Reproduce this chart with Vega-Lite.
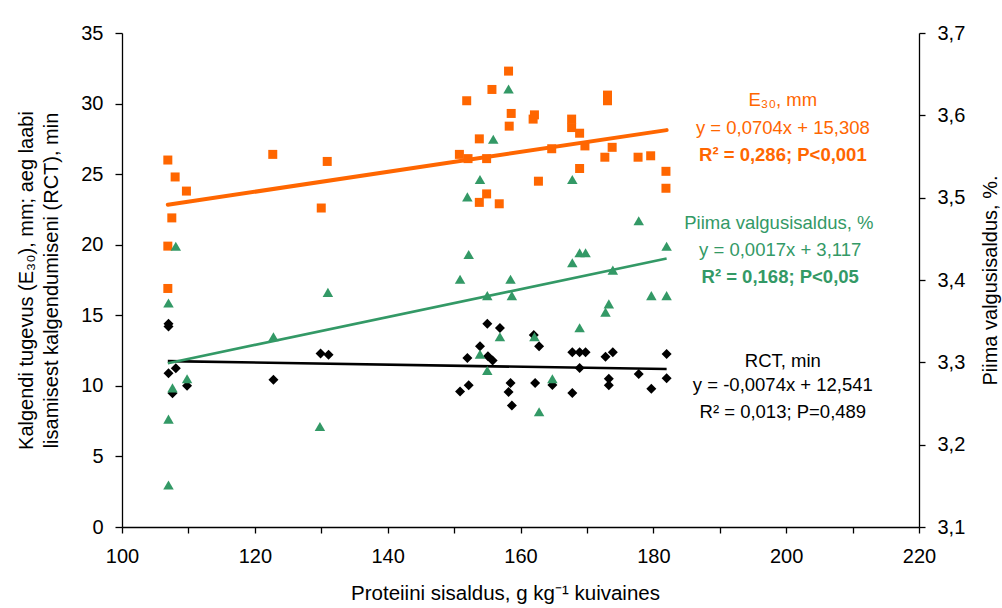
{
  "$schema": "https://vega.github.io/schema/vega-lite/v6.json",
  "width": 797,
  "height": 494,
  "autosize": {"type": "none"},
  "padding": {"left": 122, "top": 33, "right": 83, "bottom": 81},
  "background": "white",
  "config": {
    "view": {"stroke": null},
    "font": "Liberation Sans",
    "axis": {"domainColor": "black", "tickColor": "black", "labelColor": "black", "titleColor": "black", "domainWidth": 1.3, "tickWidth": 1.3, "grid": false, "labelFlush": false, "labelOverlap": false, "labelFont": "Liberation Sans", "titleFont": "Liberation Sans", "titleFontWeight": "normal"}
  },
  "datasets": {
    "points": [
      {"series": "E30", "x": 106.9, "y": 26.0},
      {"series": "E30", "x": 108.0, "y": 24.8},
      {"series": "E30", "x": 109.7, "y": 23.8},
      {"series": "E30", "x": 107.5, "y": 21.9},
      {"series": "E30", "x": 106.9, "y": 19.9},
      {"series": "E30", "x": 106.9, "y": 16.9},
      {"series": "E30", "x": 122.7, "y": 26.4},
      {"series": "E30", "x": 130.0, "y": 22.6},
      {"series": "E30", "x": 130.9, "y": 25.9},
      {"series": "E30", "x": 158.2, "y": 32.3},
      {"series": "E30", "x": 155.7, "y": 31.0},
      {"series": "E30", "x": 151.9, "y": 30.2},
      {"series": "E30", "x": 158.6, "y": 29.3},
      {"series": "E30", "x": 158.3, "y": 28.4},
      {"series": "E30", "x": 162.1, "y": 29.2},
      {"series": "E30", "x": 161.9, "y": 28.9},
      {"series": "E30", "x": 167.7, "y": 28.9},
      {"series": "E30", "x": 167.7, "y": 28.3},
      {"series": "E30", "x": 168.9, "y": 27.9},
      {"series": "E30", "x": 169.7, "y": 27.0},
      {"series": "E30", "x": 173.1, "y": 30.6},
      {"series": "E30", "x": 173.1, "y": 30.2},
      {"series": "E30", "x": 173.8, "y": 26.9},
      {"series": "E30", "x": 172.7, "y": 26.2},
      {"series": "E30", "x": 177.7, "y": 26.2},
      {"series": "E30", "x": 179.6, "y": 26.3},
      {"series": "E30", "x": 181.9, "y": 25.2},
      {"series": "E30", "x": 181.9, "y": 24.0},
      {"series": "E30", "x": 153.8, "y": 27.5},
      {"series": "E30", "x": 150.8, "y": 26.4},
      {"series": "E30", "x": 152.1, "y": 26.1},
      {"series": "E30", "x": 154.9, "y": 26.1},
      {"series": "E30", "x": 164.7, "y": 26.8},
      {"series": "E30", "x": 168.9, "y": 25.4},
      {"series": "E30", "x": 162.7, "y": 24.5},
      {"series": "E30", "x": 154.9, "y": 23.6},
      {"series": "E30", "x": 153.8, "y": 23.0},
      {"series": "E30", "x": 156.8, "y": 22.9},
      {"series": "RCT", "x": 107.0, "y": 14.4},
      {"series": "RCT", "x": 107.0, "y": 14.2},
      {"series": "RCT", "x": 107.0, "y": 10.9},
      {"series": "RCT", "x": 108.1, "y": 11.25},
      {"series": "RCT", "x": 107.6, "y": 9.48},
      {"series": "RCT", "x": 109.8, "y": 10.0},
      {"series": "RCT", "x": 122.8, "y": 10.44},
      {"series": "RCT", "x": 129.9, "y": 12.3},
      {"series": "RCT", "x": 131.1, "y": 12.2},
      {"series": "RCT", "x": 155.0, "y": 14.4},
      {"series": "RCT", "x": 156.9, "y": 14.1},
      {"series": "RCT", "x": 162.0, "y": 13.6},
      {"series": "RCT", "x": 153.9, "y": 12.8},
      {"series": "RCT", "x": 162.8, "y": 12.8},
      {"series": "RCT", "x": 152.0, "y": 11.98},
      {"series": "RCT", "x": 155.1, "y": 12.1},
      {"series": "RCT", "x": 155.8, "y": 11.8},
      {"series": "RCT", "x": 167.8, "y": 12.38},
      {"series": "RCT", "x": 168.9, "y": 12.38},
      {"series": "RCT", "x": 169.8, "y": 12.38},
      {"series": "RCT", "x": 172.8, "y": 12.07},
      {"series": "RCT", "x": 173.9, "y": 12.38},
      {"series": "RCT", "x": 182.0, "y": 12.26},
      {"series": "RCT", "x": 168.9, "y": 11.27},
      {"series": "RCT", "x": 177.8, "y": 10.84},
      {"series": "RCT", "x": 182.0, "y": 10.54},
      {"series": "RCT", "x": 173.3, "y": 10.5},
      {"series": "RCT", "x": 173.3, "y": 10.04},
      {"series": "RCT", "x": 179.7, "y": 9.8},
      {"series": "RCT", "x": 150.9, "y": 9.6},
      {"series": "RCT", "x": 152.2, "y": 10.04},
      {"series": "RCT", "x": 158.5, "y": 10.2},
      {"series": "RCT", "x": 158.2, "y": 9.57},
      {"series": "RCT", "x": 158.7, "y": 8.6},
      {"series": "RCT", "x": 162.2, "y": 10.2},
      {"series": "RCT", "x": 164.8, "y": 10.06},
      {"series": "RCT", "x": 167.8, "y": 9.5}
    ],
    "protein": [
      {"series": "Piim", "x": 108.1, "y": 3.441},
      {"series": "Piim", "x": 107.0, "y": 3.372},
      {"series": "Piim", "x": 107.6, "y": 3.269},
      {"series": "Piim", "x": 109.8, "y": 3.280},
      {"series": "Piim", "x": 107.0, "y": 3.231},
      {"series": "Piim", "x": 107.0, "y": 3.151},
      {"series": "Piim", "x": 122.8, "y": 3.331},
      {"series": "Piim", "x": 129.8, "y": 3.222},
      {"series": "Piim", "x": 131.0, "y": 3.385},
      {"series": "Piim", "x": 158.2, "y": 3.632},
      {"series": "Piim", "x": 155.9, "y": 3.571},
      {"series": "Piim", "x": 153.9, "y": 3.522},
      {"series": "Piim", "x": 152.0, "y": 3.501},
      {"series": "Piim", "x": 167.8, "y": 3.522},
      {"series": "Piim", "x": 177.8, "y": 3.472},
      {"series": "Piim", "x": 182.0, "y": 3.441},
      {"series": "Piim", "x": 152.2, "y": 3.431},
      {"series": "Piim", "x": 168.9, "y": 3.433},
      {"series": "Piim", "x": 169.8, "y": 3.433},
      {"series": "Piim", "x": 167.8, "y": 3.421},
      {"series": "Piim", "x": 173.9, "y": 3.412},
      {"series": "Piim", "x": 150.9, "y": 3.401},
      {"series": "Piim", "x": 158.5, "y": 3.401},
      {"series": "Piim", "x": 155.0, "y": 3.381},
      {"series": "Piim", "x": 158.7, "y": 3.381},
      {"series": "Piim", "x": 179.7, "y": 3.381},
      {"series": "Piim", "x": 182.0, "y": 3.381},
      {"series": "Piim", "x": 173.3, "y": 3.371},
      {"series": "Piim", "x": 172.8, "y": 3.361},
      {"series": "Piim", "x": 168.9, "y": 3.342},
      {"series": "Piim", "x": 156.9, "y": 3.331},
      {"series": "Piim", "x": 162.1, "y": 3.331},
      {"series": "Piim", "x": 153.9, "y": 3.310},
      {"series": "Piim", "x": 155.0, "y": 3.290},
      {"series": "Piim", "x": 164.8, "y": 3.280},
      {"series": "Piim", "x": 162.8, "y": 3.240}
    ],
    "trend": [
      {"series": "E30", "x": 106.9, "y": 22.83},
      {"series": "E30", "x": 182.0, "y": 28.12},
      {"series": "RCT", "x": 106.9, "y": 11.75},
      {"series": "RCT", "x": 182.0, "y": 11.19},
      {"series": "Piim", "x": 106.9, "y": 3.299},
      {"series": "Piim", "x": 182.0, "y": 3.426}
    ],
    "notes": [
      {"series": "E30", "part": "name", "label": "E₃₀, mm", "x": 199.5, "y": 30.25},
      {"series": "E30", "part": "eq", "label": "y = 0,0704x + 15,308", "x": 199.5, "y": 28.29},
      {"series": "E30", "part": "r2", "label": "R² = 0,286; P<0,001", "x": 199.5, "y": 26.36},
      {"series": "Piim", "part": "name", "label": "Piima valgusisaldus, %", "x": 198.9, "y": 21.52},
      {"series": "Piim", "part": "eq", "label": "y = 0,0017x + 3,117", "x": 199.1, "y": 19.63},
      {"series": "Piim", "part": "r2", "label": "R² = 0,168; P<0,05", "x": 199.1, "y": 17.69},
      {"series": "RCT", "part": "name", "label": "RCT, min", "x": 199.5, "y": 11.78},
      {"series": "RCT", "part": "eq", "label": "y = -0,0074x + 12,541", "x": 199.5, "y": 10.06},
      {"series": "RCT", "part": "r2", "label": "R² = 0,013; P=0,489", "x": 199.5, "y": 8.17}
    ]
  },
  "encoding": {
    "x": {
      "field": "x", "type": "quantitative",
      "scale": {"domain": [100, 220], "nice": false, "zero": false},
      "axis": {
        "values": [100, 110, 120, 130, 140, 150, 160, 170, 180, 190, 200, 210, 220],
        "labelExpr": "datum.value % 20 === 0 ? datum.label : ''",
        "title": "Proteiini sisaldus, g kg⁻¹ kuivaines",
        "titleFontSize": 20.5, "titleX": 383, "titleY": 66, "titleBaseline": "middle", "titleAlign": "center",
        "labelFontSize": 20, "labelPadding": 13, "tickSize": 6,
        "encode": {"ticks": {"update": {"y": {"signal": "datum.value % 20 === 0 ? -7 : 0"}}}}
      }
    }
  },
  "layer": [
    {
      "encoding": {
        "y": {
          "field": "y", "type": "quantitative",
          "scale": {"domain": [0, 35], "nice": false, "zero": false},
          "axis": {
            "orient": "left",
            "values": [0, 5, 10, 15, 20, 25, 30, 35],
            "title": ["Kalgendi tugevus (E₃₀), mm; aeg laabi", "lisamisest kalgendumiseni (RCT), min"],
            "titleFontSize": 20, "titleAngle": 270, "titleX": -96, "titleY": 247,
            "titleAlign": "center", "titleBaseline": "middle", "titleLineHeight": 25,
            "labelFontSize": 20, "labelPadding": 12, "tickSize": 7
          }
        }
      },
      "layer": [
        {
          "data": {"name": "trend"},
          "transform": [{"filter": "datum.series === 'E30'"}],
          "mark": {"type": "line", "color": "#FF6600", "strokeWidth": 4, "strokeCap": "round"}
        },
        {
          "data": {"name": "trend"},
          "transform": [{"filter": "datum.series === 'RCT'"}],
          "mark": {"type": "line", "color": "#000000", "strokeWidth": 2.6}
        },
        {
          "data": {"name": "points"},
          "transform": [{"filter": "datum.series === 'E30'"}],
          "mark": {"type": "point", "shape": "square", "filled": true, "size": 81, "color": "#FF6600", "opacity": 1}
        },
        {
          "data": {"name": "points"},
          "transform": [{"filter": "datum.series === 'RCT'"}],
          "mark": {"type": "point", "shape": "diamond", "filled": true, "size": 100, "color": "#000000", "opacity": 1}
        },
        {
          "data": {"name": "notes"},
          "transform": [{"filter": "!(datum.part === 'r2' && datum.series !== 'RCT')"}],
          "mark": {"type": "text", "align": "center", "baseline": "middle", "fontSize": 18.5, "font": "Liberation Sans", "fontWeight": "normal"},
          "encoding": {
            "text": {"field": "label"},
            "color": {"field": "series", "type": "nominal", "scale": {"domain": ["E30", "Piim", "RCT"], "range": ["#FF6600", "#339966", "#000000"]}, "legend": null}
          }
        },
        {
          "data": {"name": "notes"},
          "transform": [{"filter": "datum.part === 'r2' && datum.series !== 'RCT'"}],
          "mark": {"type": "text", "align": "center", "baseline": "middle", "fontSize": 18.5, "font": "Liberation Sans", "fontWeight": "bold"},
          "encoding": {
            "text": {"field": "label"},
            "color": {"field": "series", "type": "nominal", "scale": {"domain": ["E30", "Piim", "RCT"], "range": ["#FF6600", "#339966", "#000000"]}, "legend": null}
          }
        }
      ]
    },
    {
      "encoding": {
        "y": {
          "field": "y", "type": "quantitative",
          "scale": {"domain": [3.1, 3.7], "nice": false, "zero": false},
          "axis": {
            "orient": "right",
            "values": [3.1, 3.2, 3.3, 3.4, 3.5, 3.6, 3.7],
            "labelExpr": "replace(format(datum.value, '.1f'), '.', ',')",
            "title": "Piima valgusisaldus, %.",
            "titleFontSize": 20, "titleAngle": 270, "titleX": 71, "titleY": 247,
            "titleAlign": "center", "titleBaseline": "middle",
            "labelFontSize": 20, "labelPadding": 12, "tickSize": 6,
            "encode": {"ticks": {"update": {"x": {"value": -6}}}}
          }
        }
      },
      "layer": [
        {
          "data": {"name": "trend"},
          "transform": [{"filter": "datum.series === 'Piim'"}],
          "mark": {"type": "line", "color": "#339966", "strokeWidth": 2.6}
        },
        {
          "data": {"name": "protein"},
          "mark": {"type": "point", "shape": "triangle-up", "filled": true, "size": 110, "color": "#339966", "opacity": 1}
        }
      ]
    }
  ],
  "resolve": {"scale": {"y": "independent"}, "axis": {"y": "independent"}}
}
